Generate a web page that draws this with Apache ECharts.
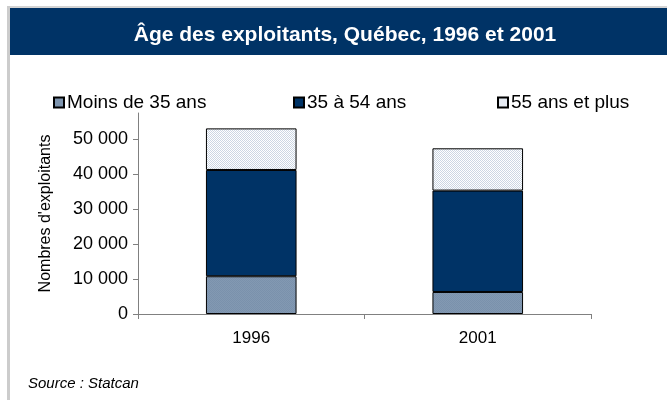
<!DOCTYPE html>
<html><head><meta charset="utf-8">
<script src="https://cdn.jsdelivr.net/npm/echarts@6/dist/echarts.min.js"></script>
<style>html,body{margin:0;padding:0;background:#fff}#c{width:667px;height:400px}</style>
</head><body><div id="c"></div>
<script>
const categories = ['1996', '2001'];
const seriesNames = ['Moins de 35 ans', '35 à 54 ans', '55 ans et plus'];
const under35 = [10800, 6300];
const from35to54 = [30400, 29000];
const over55 = [11900, 12100];
const yTicks = [0, 10000, 20000, 30000, 40000, 50000];

function pattern(c1, c2) {
  const cv = document.createElement('canvas');
  cv.width = 2; cv.height = 2;
  const g = cv.getContext('2d');
  g.fillStyle = c1; g.fillRect(0, 0, 2, 2);
  g.fillStyle = c2; g.fillRect(0, 0, 1, 1); g.fillRect(1, 1, 1, 1);
  return { image: cv, repeat: 'repeat' };
}
const colLow = pattern('#8399b2', '#7a91ac');
const colMid = '#003366';
const colHigh = pattern('#ffffff', '#ccd6e3');

const font = 'Liberation Sans, Arial, sans-serif';
const chart = echarts.init(document.getElementById('c'), null, { renderer: 'canvas' });
const fmt = v => v === 0 ? '0' : (Math.round(v / 1000) + ' 000');

const legendCommon = {
  top: 88, itemWidth: 10, itemHeight: 10, itemGap: 4, icon: 'rect',
  textStyle: { fontFamily: font, fontSize: 19, color: '#000', padding: [0, 0, 0, -2] },
  selectedMode: false
};

chart.setOption({
  animation: false,
  title: {
    text: 'Âge des exploitants, Québec, 1996 et 2001',
    left: 340, top: 20, textAlign: 'center',
    textStyle: { color: '#fff', fontFamily: font, fontWeight: 'bold', fontSize: 21 }
  },
  graphic: [
    { type: 'rect', z: -10, shape: { x: 7, y: 6, width: 660, height: 2 }, style: { fill: '#d4d4d4' } },
    { type: 'rect', z: -10, shape: { x: 7, y: 6, width: 3, height: 394 }, style: { fill: '#cccccc' } },
    { type: 'rect', z: -5, shape: { x: 10, y: 8, width: 657, height: 47 }, style: { fill: '#003366' } },
    { type: 'text', left: 28, top: 376, style: { text: 'Source : Statcan', font: 'italic 15px ' + font, fill: '#000' } }
  ],
  legend: [
    Object.assign({ left: 48, data: [seriesNames[0]] }, legendCommon),
    Object.assign({ left: 288, data: [seriesNames[1]] }, legendCommon),
    Object.assign({ left: 492, data: [seriesNames[2]] }, legendCommon)
  ],
  grid: { left: 138, right: 76, top: 113, bottom: 86, containLabel: false },
  xAxis: {
    type: 'category', data: categories,
    axisLine: { lineStyle: { color: '#808080', width: 1 } },
    axisTick: { show: true, length: 5, lineStyle: { color: '#808080' } },
    axisLabel: { fontFamily: font, fontSize: 17, color: '#000', margin: 16 }
  },
  yAxis: {
    type: 'value', min: 0, max: 57500, interval: 10000,
    name: "Nombres d'exploitants", nameLocation: 'middle', nameGap: 84, nameRotate: 90,
    nameTextStyle: { fontFamily: font, fontSize: 16, color: '#000' },
    splitLine: { show: false },
    axisLine: { show: true, lineStyle: { color: '#808080', width: 1 } },
    axisTick: { show: true, length: 5, lineStyle: { color: '#808080' }, customValues: yTicks },
    axisLabel: { fontFamily: font, fontSize: 18, color: '#000', margin: 10, customValues: yTicks, formatter: fmt }
  },
  series: [
    { name: seriesNames[0], type: 'bar', stack: 's', data: under35, barWidth: '40%',
      itemStyle: { color: colLow, borderColor: '#000', borderWidth: 1 } },
    { name: seriesNames[1], type: 'bar', stack: 's', data: from35to54, barWidth: '40%',
      itemStyle: { color: colMid, borderColor: '#000', borderWidth: 1 } },
    { name: seriesNames[2], type: 'bar', stack: 's', data: over55, barWidth: '40%',
      itemStyle: { color: colHigh, borderColor: '#000', borderWidth: 1 } }
  ]
});
</script></body></html>
